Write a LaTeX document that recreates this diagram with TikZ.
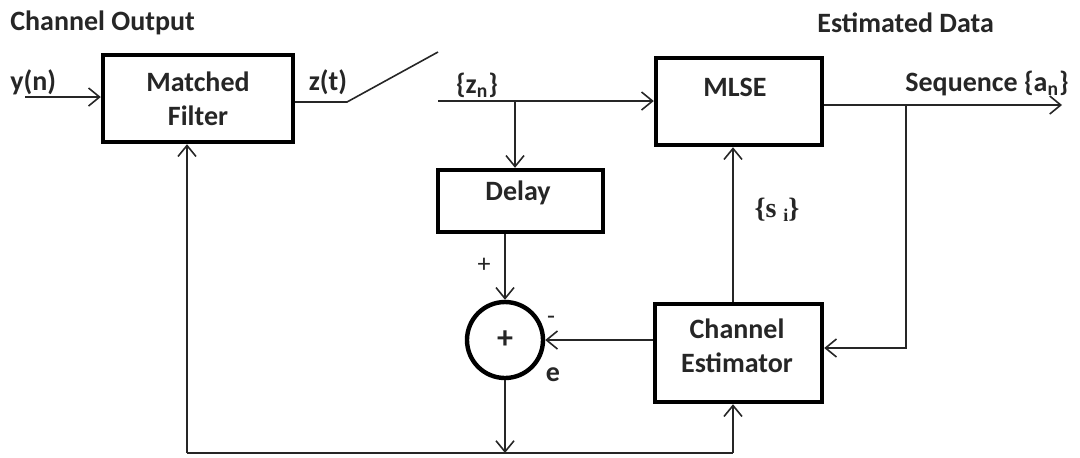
\documentclass[tikz,border=0pt]{standalone}
\usepackage{fontspec}
\setmainfont{Carlito}
\newfontfamily\serifface{Liberation Serif}
\usetikzlibrary{arrows.meta}
\begin{document}
\begin{tikzpicture}[x=0.5pt,y=-0.5pt,
  every node/.style={font=\fontsize{14}{17}\selectfont\bfseries, text=black!85},
  blk/.style={draw=black, line width=2.2pt, minimum width=#1, inner sep=0pt},
  wire/.style={line width=0.8pt, draw=black!85},
  arr/.style={wire, -{Straight Barb[length=5.5pt,width=9pt,line width=0.8pt]}},
  lbl/.style={inner sep=0pt}]
\useasboundingbox (0,0) rectangle (1080,457);

% blocks
\node[blk=95pt, minimum height=43.5pt, align=center] (mf) at (198,98.5) {Matched\\Filter};
\node[blk=83pt, minimum height=43.5pt] (mlse) at (739,101.5) {};
\node[lbl] (mlsetext) at (735,87) {MLSE};
\node[blk=82.5pt, minimum height=31pt] (delay) at (520.5,201) {};
\node[lbl] (delaytext) at (518,193) {Delay};
\node[blk=83.5pt, minimum height=49pt] (ce) at (738.5,353) {};
\node[lbl, align=center] (cetext) at (737,346) {Channel\\Estimator};
\node[circle, draw=black, line width=2.2pt, minimum size=38pt, inner sep=0pt,
      font=\fontsize{16}{18}\selectfont\bfseries] (sum) at (505,340) {+};

% free ends and corners
\coordinate (yin) at (25,97);
\coordinate (sw0) at (347,102);
\coordinate (sw1) at (438,52);
\coordinate (zn) at (438,101);
\coordinate (brz) at (515,101);
\coordinate (aout) at (1062,105);
\coordinate (bra) at (906,105);
\coordinate (bcorner) at (906,348);
\coordinate (bl) at (187,453);
\coordinate (bm) at (505,453);
\coordinate (br) at (733,453);

% connectors
\draw[arr] (yin) -- (yin -| mf.west);
\draw[wire] (mf.east |- sw0) -- (sw0) -- (sw1);
\draw[arr] (zn) -- (zn -| mlse.west);
\draw[arr] (brz) -- (brz |- delay.north);
\draw[arr] (delay.south -| sum.north) -- (sum.north);
\draw[arr] (ce.west |- sum.east) -- (sum.east);
\draw[arr] (sum.south) -- (bm);
\draw[wire] (bl) -- (br);
\draw[arr] (bl) -- (bl |- mf.south);
\draw[arr] (br) -- (br |- ce.south);
\draw[arr] (br |- ce.north) -- (br |- mlse.south);
\draw[arr] (mlse.east |- aout) -- (aout);
\draw[arr] (bra) -- (bcorner) -- (bcorner -| ce.east);

% labels
\node[lbl, anchor=west] (chout) at (10,23) {Channel Output};
\node[lbl, anchor=west] (estd) at (817,23) {Estimated Data};
\node[lbl, anchor=west] (ylab) at (10,82) {y(n)};
\node[lbl] (zlab) at (328,82) {z(t)};
\node[lbl] (znlab) at (477,85) {\{z\textsubscript{n}\}};
\node[lbl, anchor=west] (seqlab) at (905,83) {Sequence \{a\textsubscript{n}\}};
\node[lbl, font=\serifface\bfseries\fontsize{14}{16}\selectfont] (silab) at (777,210) {\{s \raisebox{-2pt}{\small i}\}};
\node[lbl, font=\fontsize{13}{15}\selectfont] (plus) at (484,265) {+};
\node[lbl, font=\fontsize{13}{15}\selectfont] (minus) at (551,320) {-};
\node[lbl] (elab) at (553,375) {e};
\end{tikzpicture}
\end{document}
